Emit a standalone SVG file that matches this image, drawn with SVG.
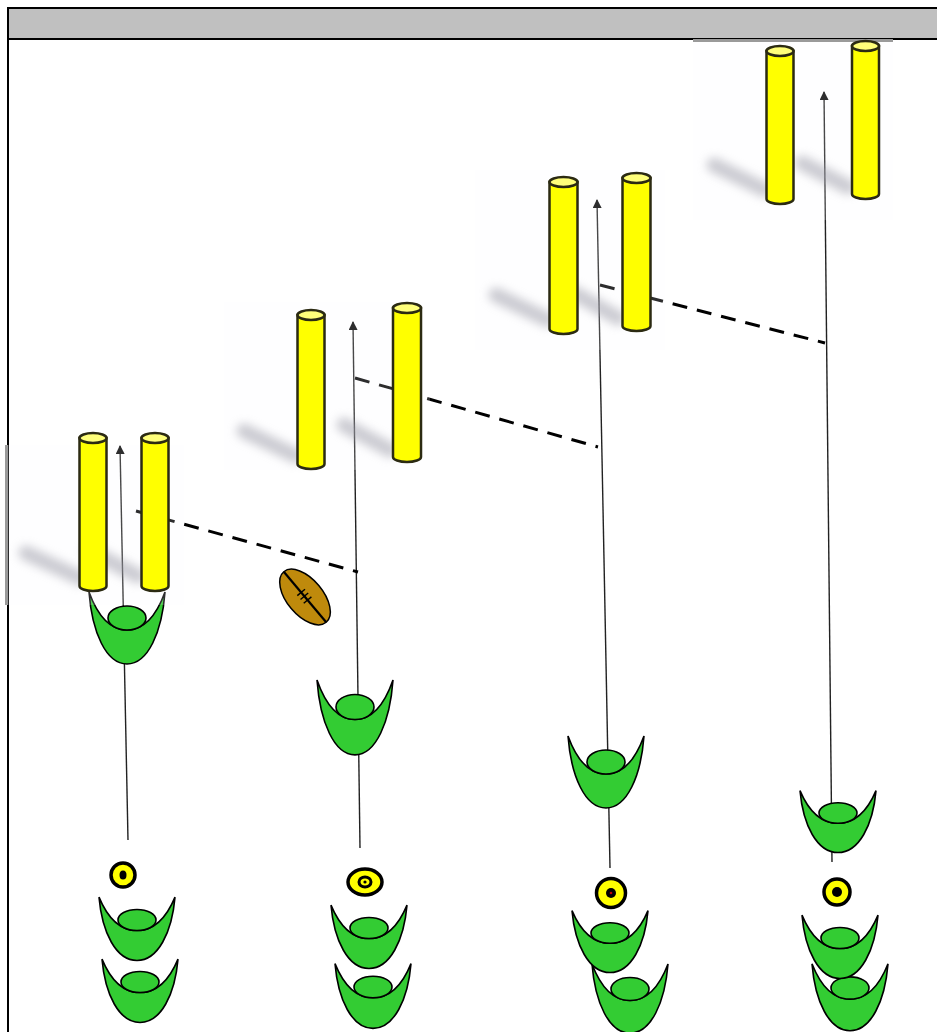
<svg xmlns="http://www.w3.org/2000/svg" width="937" height="1032" viewBox="0 0 937 1032">
  <style>
    .frame { fill: none; stroke: #000; stroke-width: 2; }
    .header { fill: #c0c0c0; stroke: #000; stroke-width: 2; }
    .backdrop { fill: #fbfbfd; fill-opacity: 0.18; }
    .edge { fill: #9a9a9a; }
    .shadow { stroke: #9a9aa6; stroke-width: 15; stroke-linecap: round; opacity: 0.5; filter: url(#soft); fill: none; }
    .post { fill: #ffff00; stroke: #2b2a12; stroke-width: 2.5; }
    .cap { fill: #ffff7a; stroke: #2b2a12; stroke-width: 2.5; }
    .run { stroke: #222; stroke-width: 1.4; fill: none; marker-end: url(#head); }
    .pass { stroke: #000; stroke-width: 3; stroke-dasharray: 15 10; fill: none; }
    .body { fill: #33cc33; stroke: #000; stroke-width: 1.6; vector-effect: non-scaling-stroke; }
    .cone { fill: #ffff00; stroke: #000; stroke-width: 3.5; }
    .dot { fill: #000; }
    .ball { fill: #bf8a0c; stroke: #000; stroke-width: 1.5; }
    .seam { stroke: #000; stroke-width: 2.2; fill: none; }
    .stitch { stroke: #000; stroke-width: 1.4; fill: none; }
  </style>
  <defs>
    <filter id="soft" x="-50%" y="-80%" width="200%" height="260%">
      <feGaussianBlur stdDeviation="5"/>
    </filter>
    <marker id="head" viewBox="0 0 10 10" refX="9" refY="5" markerWidth="9" markerHeight="9" markerUnits="userSpaceOnUse" orient="auto">
      <path d="M0,0 L10,5 L0,10 Z" fill="#000"/>
    </marker>
    <!-- player seen from above: shoulders with head, head centred at the origin -->
    <g id="player">
      <path class="body" d="M -38,-26 C -35,14 -21,46 0,46 C 21,46 35,14 38,-26 C 30,-4 18,12 0,12 C -18,12 -30,-4 -38,-26 Z"/>
      <ellipse class="body" cx="0" cy="0" rx="19" ry="12"/>
    </g>
  </defs>

  <rect width="937" height="1032" fill="#fff"/>

  <!-- page frame and title bar -->
  <line class="frame" x1="8" y1="7" x2="8" y2="1032"/>
  <rect class="header" x="8" y="8" width="940" height="31"/>

  <!-- runs and passes -->
  <g id="connectors">
    <line class="run" x1="128" y1="840" x2="120" y2="446"/>
    <line class="run" x1="360" y1="848" x2="353" y2="322"/>
    <line class="run" x1="610" y1="868" x2="597" y2="200"/>
    <line class="run" x1="832" y1="862" x2="824" y2="92"/>
    <line class="pass" x1="136" y1="511" x2="358" y2="572"/>
    <line class="pass" x1="355" y1="378" x2="598" y2="447"/>
    <line class="pass" x1="600" y1="285" x2="825" y2="343"/>
  </g>

  <!-- players on the run -->
  <use id="player-1" href="#player" transform="translate(127,618)"/>
  <use id="player-2" href="#player" transform="translate(355,707) scale(1,1.04)"/>
  <use id="player-3" href="#player" transform="translate(606,762)"/>
  <use id="player-4" href="#player" transform="translate(838,813) scale(1,0.86)"/>

  <!-- waiting lines -->
  <g id="queue-1">
    <use href="#player" transform="translate(140,982) scale(1,0.88)"/>
    <use href="#player" transform="translate(137,920) scale(1,0.88)"/>
  </g>
  <g id="queue-2">
    <use href="#player" transform="translate(373,987) scale(1,0.9)"/>
    <use href="#player" transform="translate(369,928) scale(1,0.88)"/>
  </g>
  <g id="queue-3">
    <use href="#player" transform="translate(630,989) scale(1,0.96)"/>
    <use href="#player" transform="translate(610,933) scale(1,0.86)"/>
  </g>
  <g id="queue-4">
    <use href="#player" transform="translate(850,988) scale(1,0.93)"/>
    <use href="#player" transform="translate(840,938) scale(1,0.88)"/>
  </g>

  <!-- cones -->
  <g id="cone-1">
    <circle class="cone" cx="123" cy="875" r="12"/>
    <ellipse class="dot" cx="123" cy="875" rx="3.5" ry="4.5"/>
  </g>
  <g id="cone-2">
    <ellipse class="cone" cx="365" cy="882" rx="17" ry="13"/>
    <ellipse cx="365" cy="882" rx="6" ry="5" fill="#ffff00" stroke="#000" stroke-width="3"/>
    <circle class="dot" cx="365" cy="882" r="1.6"/>
  </g>
  <g id="cone-3">
    <circle class="cone" cx="611" cy="893" r="14.5"/>
    <circle class="dot" cx="611" cy="893" r="5"/>
    <circle cx="611" cy="893" r="1.3" fill="#c00000"/>
  </g>
  <g id="cone-4">
    <circle class="cone" cx="837" cy="892" r="13"/>
    <circle class="dot" cx="837" cy="892" r="5"/>
  </g>

  <!-- ball -->
  <g id="ball" transform="translate(305,597) rotate(50)">
    <ellipse class="ball" cx="0" cy="0" rx="33" ry="18"/>
    <line class="seam" x1="-33" y1="0" x2="33" y2="0"/>
    <line class="stitch" x1="-6" y1="-5" x2="-6" y2="5"/>
    <line class="stitch" x1="-1" y1="-5" x2="-1" y2="5"/>
    <line class="stitch" x1="4" y1="-5" x2="4" y2="5"/>
  </g>

  <!-- goals -->
  <g id="goal-1">
    <rect class="backdrop" x="6" y="445" width="178" height="160"/>
    <rect class="edge" x="5" y="445" width="3" height="160"/>
    <line class="shadow" x1="26" y1="553" x2="80" y2="578"/>
    <line class="shadow" x1="90" y1="551" x2="138" y2="576"/>
    <path class="post" d="M79.5,438 V586 A13.5,5 0 0 0 106.5,586 V438 Z"/>
    <ellipse class="cap" cx="93" cy="438" rx="13.5" ry="5"/>
    <path class="post" d="M141.5,438 V586 A13.5,5 0 0 0 168.5,586 V438 Z"/>
    <ellipse class="cap" cx="155" cy="438" rx="13.5" ry="5"/>
  </g>
  <g id="goal-2">
    <rect class="backdrop" x="224" y="302" width="206" height="168"/>
    <line class="shadow" x1="244" y1="431" x2="296" y2="456"/>
    <line class="shadow" x1="344" y1="425" x2="390" y2="450"/>
    <path class="post" d="M297.5,315 V464 A13.5,5 0 0 0 324.5,464 V315 Z"/>
    <ellipse class="cap" cx="311" cy="315" rx="13.5" ry="5"/>
    <path class="post" d="M393,308 V457 A14,5 0 0 0 421,457 V308 Z"/>
    <ellipse class="cap" cx="407" cy="308" rx="14" ry="5"/>
  </g>
  <g id="goal-3">
    <rect class="backdrop" x="475" y="170" width="190" height="180"/>
    <line class="shadow" x1="496" y1="295" x2="548" y2="320"/>
    <line class="shadow" x1="574" y1="293" x2="618" y2="318"/>
    <path class="post" d="M549.5,182 V329 A14,5 0 0 0 577.5,329 V182 Z"/>
    <ellipse class="cap" cx="563.5" cy="182" rx="14" ry="5"/>
    <path class="post" d="M622.5,178 V326 A14,5 0 0 0 650.5,326 V178 Z"/>
    <ellipse class="cap" cx="636.5" cy="178" rx="14" ry="5"/>
  </g>
  <g id="goal-4">
    <rect class="backdrop" x="693" y="40" width="200" height="180"/>
    <rect class="edge" x="693" y="39" width="200" height="3"/>
    <line class="shadow" x1="714" y1="165" x2="765" y2="190"/>
    <line class="shadow" x1="802" y1="163" x2="848" y2="187"/>
    <path class="post" d="M766.5,51 V199 A13.5,5 0 0 0 793.5,199 V51 Z"/>
    <ellipse class="cap" cx="780" cy="51" rx="13.5" ry="5"/>
    <path class="post" d="M852,46 V194 A13.5,5 0 0 0 879,194 V46 Z"/>
    <ellipse class="cap" cx="865.5" cy="46" rx="13.5" ry="5"/>
  </g>
</svg>
